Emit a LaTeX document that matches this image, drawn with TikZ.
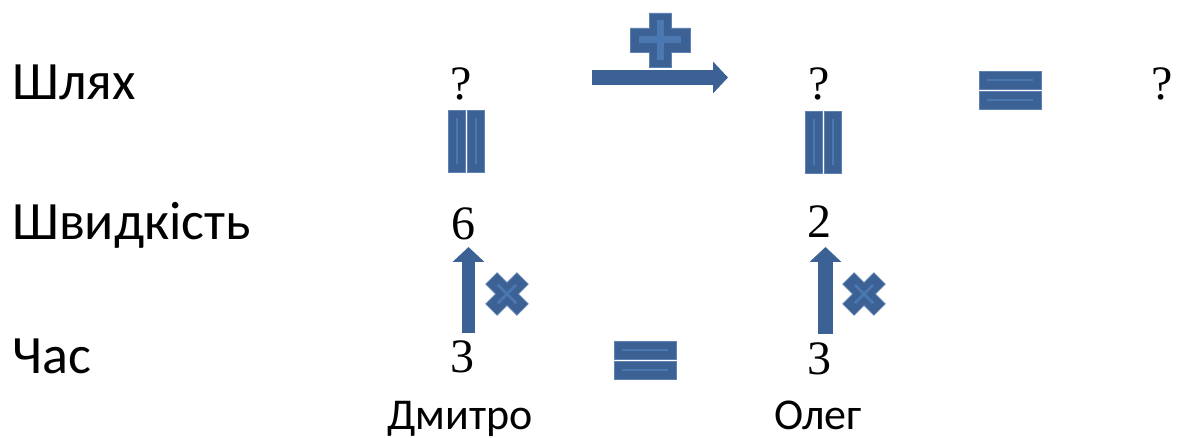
\documentclass[tikz,border=0pt]{standalone}
\usepackage{fontspec}
\newfontfamily\labelfont{Carlito}
\newfontfamily\digitfont{Liberation Serif}
\usetikzlibrary{arrows.meta,calc}

\definecolor{opfill}{RGB}{60,97,148}
\definecolor{opedge}{RGB}{95,130,178}
\definecolor{opshine}{RGB}{76,120,178}

\tikzset{
  rowlabel/.style={anchor=base west,inner sep=0pt,font=\labelfont\fontsize{54}{58}\selectfont},
  value/.style={anchor=base,inner sep=0pt,font=\digitfont\fontsize{48}{52}\selectfont},
  person/.style={anchor=base,inner sep=0pt,font=\labelfont\fontsize{44}{48}\selectfont},
  fatarrow/.style={draw=opfill,line width=#1,-{Triangle[width=31pt,length=15pt]}},
  fatarrow/.default=14pt,
  opbody/.style={fill=opfill,draw=opedge,line width=0.8pt},
  opgleam/.style={draw=opshine,line width=#1,line cap=butt},
  opgleam/.default=2pt,
  % two horizontal bars: equals
  pics/eqsign/.style={code={
    \path[opbody] (-31,-19) rectangle (31,-1);
    \path[opbody] (-31,1) rectangle (31,19);
    \draw[opgleam] (-23,-10) -- (23,-10);
    \draw[opgleam] (-23,10) -- (23,10);
  }},
  % two vertical bars
  pics/parsign/.style={code={
    \path[opbody] (-18,-31) rectangle (-1,31);
    \path[opbody] (1,-31) rectangle (18,31);
    \draw[opgleam] (-9.5,-23) -- (-9.5,23);
    \draw[opgleam] (9.5,-23) -- (9.5,23);
  }},
  % plus
  pics/plussign/.style={code={
    \path[opbody] (-11,-27) -- (11,-27) -- (11,-12) -- (30,-12) -- (30,12)
      -- (11,12) -- (11,27) -- (-11,27) -- (-11,12) -- (-30,12) -- (-30,-12)
      -- (-11,-12) -- cycle;
    \draw[opgleam=7pt] (-21,0) -- (21,0);
    \draw[opgleam=7pt] (0,-20) -- (0,20);
  }},
  % times
  pics/timessign/.style={code={
    \begin{scope}[rotate=45]
      \path[opbody] (-8,-22) -- (8,-22) -- (8,-8) -- (22,-8) -- (22,8)
        -- (8,8) -- (8,22) -- (-8,22) -- (-8,8) -- (-22,8) -- (-22,-8)
        -- (-8,-8) -- cycle;
      \draw[opgleam=2.5pt] (-13,0) -- (13,0);
      \draw[opgleam=2.5pt] (0,-13) -- (0,13);
    \end{scope}
  }}
}

\begin{document}
\begin{tikzpicture}[x=1pt,y=-1pt]
  \useasboundingbox (0,0) rectangle (1178,438);

  % row captions
  \node[rowlabel] (lpath)  at (12,100) {Шлях};
  \node[rowlabel] (lspeed) at (12,240) {Швидкість};
  \node[rowlabel] (ltime)  at (12,373) {Час};

  % Dmytro column
  \node[value] (p1) at (461,100) {?};
  \node[value] (v1) at (463,240) {6};
  \node[value] (t1) at (462,372) {3};
  \node[person] (n1) at (460,429) {Дмитро};

  % Oleh column
  \node[value] (p2) at (819,100) {?};
  \node[value] (v2) at (819,238) {2};
  \node[value] (t2) at (819,374) {3};
  \node[person] (n2) at (818,429) {Олег};

  % total distance
  \node[value] (p3) at (1162,100) {?};

  % speed from time (multiplication)
  \draw[fatarrow=13pt] ($(t1.base)+(6.5,-39)$) -- ($(v1.base)+(5.5,7)$);
  \draw[fatarrow=15pt] ($(t2.base)+(6.5,-40)$) -- ($(v2.base)+(6.5,9)$);
  \pic at (507,294) {timessign};
  \pic at (864,294) {timessign};

  % distance equals speed
  \pic at (466,141) {parsign};
  \pic at (823.5,142.5) {parsign};

  % sum of distances
  \draw[fatarrow=15pt] ($(p1.base)+(131,-22.5)$) -- ($(p2.base)+(-91,-22.5)$);
  \pic at (660,40) {plussign};
  \pic at (1010,90) {eqsign};

  % equal times
  \pic at (645,360) {eqsign};
\end{tikzpicture}
\end{document}
